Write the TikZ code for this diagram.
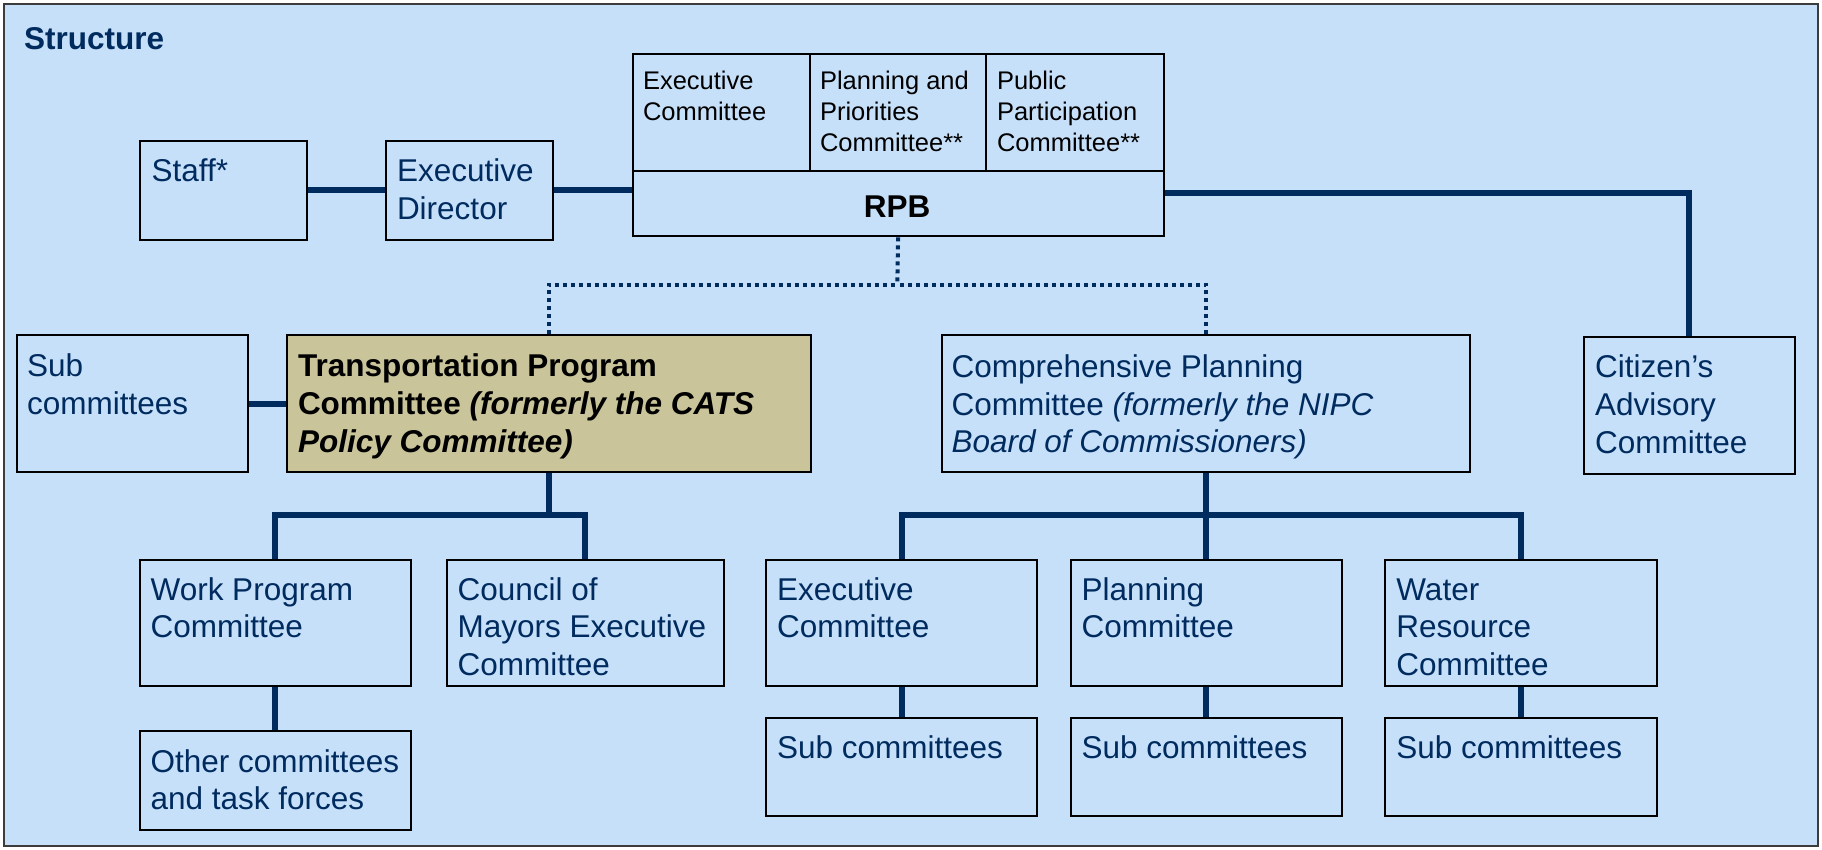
\documentclass[tikz,border=0pt]{standalone}
\usepackage{fontspec}
\setmainfont{Liberation Sans}
\usetikzlibrary{calc}
\definecolor{bgblue}{RGB}{199,224,250}
\definecolor{navy}{RGB}{0,43,94}
\definecolor{khaki}{RGB}{201,196,154}
\definecolor{framegray}{RGB}{60,60,60}
\newcommand{\mlines}[1]{\parbox[t]{600pt}{\raggedright #1}}
\begin{document}
\begin{tikzpicture}[x=1pt,y=-1pt,
  boxs/.style={draw=black, line width=2pt, fill=bgblue, inner sep=0pt, anchor=north west},
  txt/.style={anchor=base west, inner sep=0pt, outer sep=0pt, text=navy, font=\fontsize{31.5}{37.8}\selectfont},
  txtbold/.style={txt, font=\fontsize{31.5}{37.8}\selectfont\bfseries},
  txtsm/.style={anchor=base west, inner sep=0pt, outer sep=0pt, text=black, font=\fontsize{25.5}{31.3}\selectfont},
  conn/.style={draw=navy, line width=6pt, line join=miter},
  dotl/.style={draw=navy, line width=4pt, dash pattern=on 4pt off 4pt},
]
\useasboundingbox (0,0) rectangle (1822,849);
\draw[draw=framegray, line width=2pt, fill=bgblue] (4,4) rectangle (1818,846);

% boxes
\node[boxs, minimum width=167pt, minimum height=98.7pt] (staff) at (139,140) {};
\node[boxs, minimum width=167pt, minimum height=98.7pt] (ed) at (385,140) {};
\node[boxs, minimum width=177.5pt, minimum height=117.5pt] (rpb1) at (631.5,52.5) {};
\node[boxs, minimum width=176.4pt, minimum height=117.5pt] (rpb2) at (809,52.5) {};
\node[boxs, minimum width=177.2pt, minimum height=117.5pt] (rpb3) at (985.4,52.5) {};
\node[boxs, minimum width=531.1pt, minimum height=65.3pt] (rpb) at (631.5,170) {};
\node[boxs, minimum width=231.7pt, minimum height=136.9pt] (sub) at (15.7,334.4) {};
\node[boxs, fill=khaki, minimum width=524pt, minimum height=136.9pt] (trans) at (285.6,334.4) {};
\node[boxs, minimum width=528.2pt, minimum height=136.9pt] (comp) at (940.8,334.4) {};
\node[boxs, minimum width=210.8pt, minimum height=137.2pt] (cit) at (1583,335.8) {};
\node[boxs, minimum width=270.5pt, minimum height=125.5pt] (wp) at (139,559) {};
\node[boxs, minimum width=276.8pt, minimum height=125.5pt] (cm) at (446,559) {};
\node[boxs, minimum width=270.5pt, minimum height=99pt] (other) at (139,730.3) {};
\node[boxs, minimum width=270.8pt, minimum height=125.5pt] (ex) at (765.4,559) {};
\node[boxs, minimum width=271pt, minimum height=125.5pt] (pl) at (1069.7,559) {};
\node[boxs, minimum width=271.5pt, minimum height=125.5pt] (wr) at (1384.2,559) {};
\node[boxs, minimum width=270.8pt, minimum height=98.7pt] (s1) at (765.4,716.6) {};
\node[boxs, minimum width=271pt, minimum height=98.7pt] (s2) at (1069.7,716.6) {};
\node[boxs, minimum width=271.5pt, minimum height=98.7pt] (s3) at (1384.2,716.6) {};

% connectors
\draw[conn] (staff.east) -- (ed.west);
\draw[conn] (ed.east) -- (ed.east -| rpb.west);
\draw[conn] (rpb.east |- 0,193.3) -| (cit.north);
\draw[conn] (sub.east) -- (trans.west);
\coordinate (dj) at (897.3,284.5);
\draw[dotl] (rpb.south) -- (dj);
\draw[dotl] (trans.north) |- (dj);
\draw[dotl] (comp.north) |- (dj);
\coordinate (tj) at (trans.south |- 0,514.5);
\draw[conn] (trans.south) -- (tj);
\draw[conn] (wp.north) |- (tj) -| (cm.north);
\draw[conn] (wp.south) -- (other.north);
\coordinate (cj) at (comp.south |- 0,514.8);
\draw[conn] (comp.south) -- (cj);
\draw[conn] (ex.north) |- (cj) -| (wr.north);
\draw[conn] (pl.north) -- (pl.north |- cj);
\draw[conn] (ex.south) -- (s1.north);
\draw[conn] (pl.south) -- (s2.north);
\draw[conn] (wr.south) -- (s3.north);

% texts
\node[txtbold] (title) at (24,49.3) {Structure};
\node[txt] (staff-t) at (151.6,181.7) {Staff*};
\node[txt] (ed-t) at (397,181.7) {\mlines{Executive\\Director}};
\node[txtsm] (rpb1-t) at (643,89.3) {\mlines{Executive\\Committee}};
\node[txtsm] (rpb2-t) at (820,89.3) {\mlines{Planning and\\Priorities\\Committee**}};
\node[txtsm] (rpb3-t) at (997,89.3) {\mlines{Public\\Participation\\Committee**}};
\node[txtbold, anchor=base, text=black] (rpb-t) at (897,217) {RPB};
\node[txt] (sub-t) at (27.2,376.5) {\mlines{Sub\\committees}};
\node[txtbold, text=black] (trans-t) at (298,376.5) {\mlines{Transportation Program\\Committee \textit{(formerly the CATS}\\\textit{Policy Committee)}}};
\node[txt] (comp-t) at (951.6,377.2) {\mlines{Comprehensive Planning\\Committee \textit{(formerly the NIPC}\\\textit{Board of Commissioners)}}};
\node[txt] (cit-t) at (1595,377.7) {\mlines{Citizen’s\\Advisory\\Committee}};
\node[txt] (wp-t) at (150.6,600) {\mlines{Work Program\\Committee}};
\node[txt] (cm-t) at (457.6,600) {\mlines{Council of\\Mayors Executive\\Committee}};
\node[txt] (other-t) at (150.6,772) {\mlines{Other committees\\and task forces}};
\node[txt] (ex-t) at (777,600) {\mlines{Executive\\Committee}};
\node[txt] (pl-t) at (1081.6,600) {\mlines{Planning\\Committee}};
\node[txt] (wr-t) at (1396.4,600) {\mlines{Water\\Resource\\Committee}};
\node[txt] (s1-t) at (777,758) {Sub committees};
\node[txt] (s2-t) at (1081.6,758) {Sub committees};
\node[txt] (s3-t) at (1396.4,758) {Sub committees};
\end{tikzpicture}
\end{document}
